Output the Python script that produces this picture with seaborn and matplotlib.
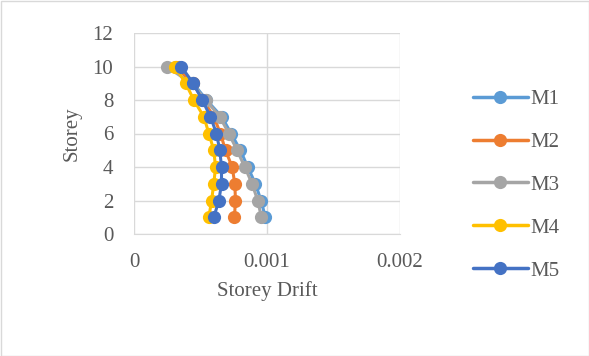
import matplotlib
matplotlib.use("Agg")
import matplotlib.pyplot as plt
import seaborn as sns
import pandas as pd
from matplotlib.lines import Line2D

storey = [1, 2, 3, 4, 5, 6, 7, 8, 9, 10]
M1 = [0.000988, 0.000955, 0.000913, 0.000855, 0.000800, 0.000730, 0.000660, 0.000545, 0.000445, 0.000340]
M2 = [0.000755, 0.000763, 0.000758, 0.000738, 0.000688, 0.000650, 0.000600, 0.000520, 0.000440, 0.000315]
M3 = [0.000958, 0.000930, 0.000888, 0.000833, 0.000775, 0.000713, 0.000645, 0.000540, 0.000430, 0.000245]
M4 = [0.000563, 0.000583, 0.000600, 0.000613, 0.000600, 0.000563, 0.000525, 0.000450, 0.000388, 0.000308]
M5 = [0.000600, 0.000638, 0.000658, 0.000658, 0.000645, 0.000620, 0.000575, 0.000513, 0.000445, 0.000355]
series = {"M1": M1, "M2": M2, "M3": M3, "M4": M4, "M5": M5}
colors = {"M1": "#5B9BD5", "M2": "#ED7D31", "M3": "#A5A5A5", "M4": "#FFC000", "M5": "#4472C4"}
xticks = [0, 0.001, 0.002]
xticklabels = ["0", "0.001", "0.002"]
yticks = [0, 2, 4, 6, 8, 10, 12]

rows = []
for name, vals in series.items():
    for s, v in zip(storey, vals):
        rows.append({"model": name, "drift": v, "storey": s})
df = pd.DataFrame(rows)

sns.set_style("white")
plt.rcParams['font.family'] = ['Liberation Serif', 'DejaVu Serif']
FS = 15
TXT = "#595959"

fig = plt.figure(figsize=(5.89, 3.56), dpi=100)
ax = fig.add_axes([134/589, 1-234/356, (400-134)/589, (234-33)/356])

for name in series:
    sub = df[df.model == name]
    sns.lineplot(data=sub, x="drift", y="storey", sort=False, ax=ax,
                 color=colors[name], marker="o", markersize=9.5,
                 markeredgewidth=0, linewidth=2.2, legend=False, estimator=None)

ax.set_xlim(0, 0.002)
ax.set_ylim(0, 12)
ax.set_xticks(xticks)
ax.set_xticklabels(xticklabels)
ax.set_yticks(yticks)
ax.grid(True, color="#D9D9D9", linewidth=1)
ax.set_axisbelow(True)
for sp in ["top", "right", "left"]:
    ax.spines[sp].set_visible(False)
ax.spines["bottom"].set_color("#D9D9D9")
ax.tick_params(axis="x", length=0, labelsize=FS, colors=TXT, pad=14)
ax.tick_params(axis="y", length=0, labelsize=FS, colors=TXT, pad=15)
ax.set_xlabel("Storey Drift", fontsize=FS, color=TXT, labelpad=6)
ax.set_ylabel("Storey", fontsize=FS, color=TXT, labelpad=8)

handles = [Line2D([0], [0], color=colors[n], marker="o", markersize=9.5,
                  markeredgewidth=0, linewidth=2.5) for n in series]
leg = fig.legend(handles, list(series.keys()), loc="upper left",
                 bbox_to_anchor=(465/589, 1-81/356), frameon=False,
                 fontsize=FS, labelcolor=TXT, handlelength=2.6,
                 handletextpad=0.15, labelspacing=1.12, borderaxespad=0)

fig.patches.append(plt.Rectangle((0.5/589, 0.5/356), 1-1/589, 1-1/356,
                                 transform=fig.transFigure, fill=False,
                                 edgecolor="#D9D9D9", linewidth=1))
fig.savefig("out.png", dpi=100)
